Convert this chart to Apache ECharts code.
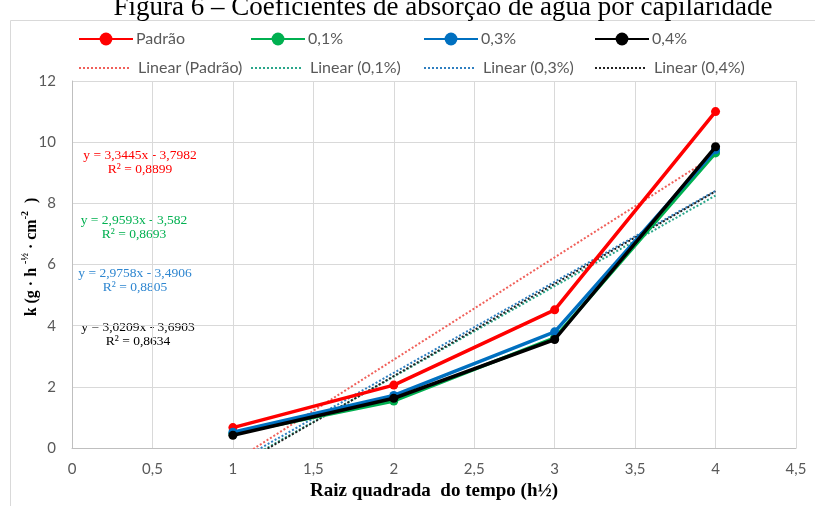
<!DOCTYPE html>
<html>
<head>
<meta charset="utf-8">
<script src="https://cdn.jsdelivr.net/npm/echarts@6/dist/echarts.min.js"></script>
<style>
  html, body { margin: 0; padding: 0; background: #fff; }
  #chart { width: 815px; height: 506px; }
</style>
</head>
<body>
<div id="chart"></div>
<script>
// Square root of time (h^1/2)
const sqrtTime = [1, 2, 3, 4];

// Capillary absorption coefficient k for each mix
const padrao = [0.67, 2.06, 4.52, 11.0];
const mix01 = [0.47, 1.54, 3.60, 9.65];
const mix03 = [0.52, 1.72, 3.80, 9.75];
const mix04 = [0.42, 1.63, 3.55, 9.85];

const seriesNames = ['Padrão', '0,1%', '0,3%', '0,4%'];
const trendNames = ['Linear (Padrão)', 'Linear (0,1%)', 'Linear (0,3%)', 'Linear (0,4%)'];

// Linear trendline coefficients (y = a·x + b) and R²
const trendSlopes = [3.3445, 2.9593, 2.9758, 3.0209];
const trendIntercepts = [-3.7982, -3.582, -3.4906, -3.6903];
const trendR2 = ['0,8899', '0,8693', '0,8805', '0,8634'];

const xTicks = ['0', '0,5', '1', '1,5', '2', '2,5', '3', '3,5', '4', '4,5'];

const lineColors = ['#FF0000', '#00B050', '#0070C0', '#000000'];
const trendColors = ['#F0605A', '#2AA68A', '#2F7FC0', '#222222'];
const eqColors = ['#FF0000', '#00B050', '#2E86D0', '#000000'];

const valuesList = [padrao, mix01, mix03, mix04];

const fmt = v => String(v).replace('.', ',');
const uiFont = 'Lato, "Open Sans", sans-serif';
const serifFont = '"Liberation Serif", serif';

const series = [];
valuesList.forEach((vals, i) => {
  series.push({
    name: seriesNames[i],
    type: 'line',
    data: sqrtTime.map((x, j) => [x, vals[j]]),
    symbol: 'circle',
    symbolSize: 9,
    lineStyle: { color: lineColors[i], width: 3.5 },
    itemStyle: { color: lineColors[i] },
    z: 10 + i
  });
});
valuesList.forEach((vals, i) => {
  const x0 = sqrtTime[0], x1 = sqrtTime[sqrtTime.length - 1];
  const a = trendSlopes[i], b = trendIntercepts[i];
  series.push({
    name: trendNames[i],
    type: 'line',
    data: [[x0, a * x0 + b], [x1, a * x1 + b]],
    symbol: 'none',
    clip: true,
    lineStyle: { color: trendColors[i], width: 2, type: [2, 2] },
    itemStyle: { color: trendColors[i] },
    z: 5 + i
  });
});

// Legend: four columns, line series on the first row, trendlines on the second
const colLeft = [78, 250, 423, 594];
const legends = [];
const legendText = { color: '#595959', fontSize: 16, fontFamily: uiFont, padding: [0, 0, 0, -2] };
for (let i = 0; i < 4; i++) {
  legends.push({
    data: [seriesNames[i]], left: colLeft[i], top: 31, itemWidth: 54, itemHeight: 16,
    itemGap: 0, padding: 0, textStyle: legendText, selectedMode: false
  });
  legends.push({
    data: [{ name: trendNames[i], itemStyle: { opacity: 0 } }], left: colLeft[i], top: 60, itemWidth: 50, itemHeight: 16,
    itemGap: 0, padding: 0, textStyle: Object.assign({}, legendText, { padding: [0, 0, 0, 4] }), selectedMode: false
  });
}

// Trendline equation labels
const eqCenters = [[140, 155], [134, 220], [135, 273], [138, 327]];
const graphics = [
  { type: 'rect', shape: { x: 10.5, y: 20.5, width: 830, height: 520 }, style: { fill: 'none', stroke: '#D9D9D9', lineWidth: 1 }, silent: true },
  { type: 'text', x: 443, y: 21, style: { text: 'Figura 6 – Coeficientes de absorção de água por capilaridade', font: '27px ' + serifFont, fill: '#000', textAlign: 'center', textVerticalAlign: 'bottom' } },
  {
    type: 'text', x: 30, y: 257, rotation: Math.PI / 2,
    style: {
      text: '{a|k (g · h }{s|-½}{a| · cm}{s|-2}{a|  )}',
      textAlign: 'center', textVerticalAlign: 'middle',
      rich: {
        a: { fontFamily: serifFont, fontWeight: 'bold', fontSize: 16, fill: '#000', lineHeight: 20, verticalAlign: 'bottom' },
        s: { fontFamily: serifFont, fontWeight: 'bold', fontSize: 10, fill: '#000', lineHeight: 20, verticalAlign: 'top' }
      }
    }
  }
];
for (let i = 0; i < 4; i++) {
  const [cx, cy] = eqCenters[i];
  const eq = 'y = ' + fmt(trendSlopes[i]) + 'x - ' + fmt(Math.abs(trendIntercepts[i]));
  graphics.push({ type: 'text', x: cx, y: cy, style: { text: eq, font: '13.5px ' + serifFont, fill: eqColors[i], textAlign: 'center', textVerticalAlign: 'middle' } });
  graphics.push({ type: 'text', x: cx, y: cy + 14, style: { text: 'R² = ' + trendR2[i], font: '13.5px ' + serifFont, fill: eqColors[i], textAlign: 'center', textVerticalAlign: 'middle' } });
}

const chart = echarts.init(document.getElementById('chart'), null, { renderer: 'canvas' });
chart.setOption({
  animation: false,
  backgroundColor: '#fff',
  grid: { left: 72, right: 19, top: 81, bottom: 55, containLabel: false },
  legend: legends,
  graphic: graphics,
  xAxis: {
    type: 'value', min: 0, max: 4.5, interval: 0.5,
    axisLine: { show: true, lineStyle: { color: '#BFBFBF' } },
    axisTick: { show: false },
    axisLabel: { color: '#595959', fontSize: 15, fontFamily: uiFont, margin: 14,
      formatter: v => xTicks[Math.round(v * 2)] },
    splitLine: { show: true, lineStyle: { color: '#D9D9D9' } },
    name: 'Raiz quadrada  do tempo (h½)',
    nameLocation: 'middle', nameGap: 29,
    nameTextStyle: { fontFamily: serifFont, fontWeight: 'bold', fontSize: 19, color: '#000' }
  },
  yAxis: {
    type: 'value', min: 0, max: 12, interval: 2,
    axisLine: { show: true, lineStyle: { color: '#BFBFBF' } },
    axisTick: { show: false },
    axisLabel: { color: '#595959', fontSize: 15, fontFamily: uiFont, margin: 16 },
    splitLine: { show: true, lineStyle: { color: '#D9D9D9' } }
  },
  series: series
});
</script>
</body>
</html>
